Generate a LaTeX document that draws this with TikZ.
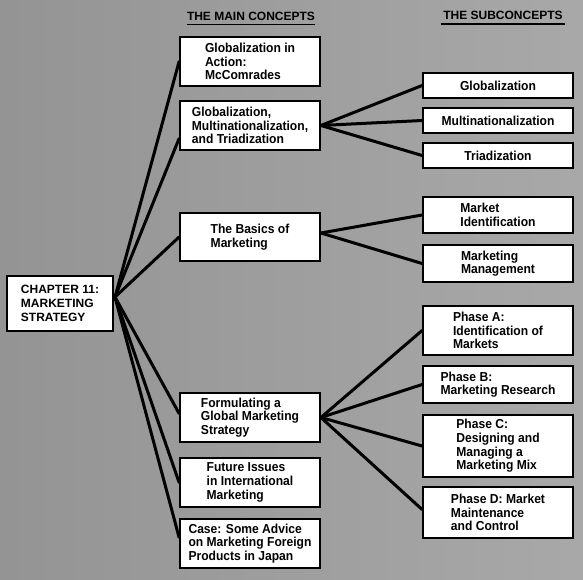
\documentclass[tikz,border=0pt]{standalone}
\usepackage{fontspec}
\setmainfont{Liberation Sans}
\newfontfamily\boxfont[FakeStretch=0.93]{Liberation Sans}
\usetikzlibrary{calc}
\definecolor{bgdark}{gray}{0.58}
\definecolor{bglight}{gray}{0.66}
\tikzset{
  box/.style={draw=black, fill=white, line width=1.8pt, rectangle, inner sep=0pt,
    align=left, font=\boxfont\bfseries\fontsize{13}{13.6}\selectfont},
  mainbox/.style={box, minimum width=140pt, minimum height=49pt},
  subbox/.style={box, minimum width=150pt},
  link/.style={draw=black, line width=3pt, line cap=round},
  header/.style={inner sep=0pt, anchor=base, font=\bfseries\fontsize{12}{14}\selectfont},
  uline/.style={draw=black, line width=1.4pt}
}
\begin{document}
\begin{tikzpicture}[x=1pt, y=-1pt]
\useasboundingbox (0,0) rectangle (583,580);
\shade[left color=bgdark, right color=bglight] (0,0) rectangle (583,580);

% headers
\node[header] (hm) at (251,21) {THE MAIN CONCEPTS};
\node[header] (hs) at (503,20) {THE SUBCONCEPTS};
\draw[uline] ([yshift=-3.5pt]hm.base west) -- ([yshift=-3.5pt]hm.base east);
\draw[uline] ([xshift=-2pt,yshift=-4pt]hs.base west) -- ([xshift=2pt,yshift=-4pt]hs.base east);

% connectors (drawn first, boxes on top)
\coordinate (cf) at (115,297);

% chapter
\node[box, minimum width=106pt, minimum height=55pt, font=\bfseries\fontsize{12}{14}\selectfont] (ch) at (60,303.5) {CHAPTER 11:\\MARKETING\\STRATEGY};

% main concepts
\node[mainbox] (m1) at (250,61.5) {Globalization in\\Action:\\McComrades};
\node[mainbox] (m2) at (250,125.5) {Globalization,\\Multinationalization,\\and Triadization};
\node[mainbox, minimum height=48pt] (m3) at (250,237) {The Basics of\\Marketing};
\node[mainbox] (m4) at (250,417.5) {Formulating a\\Global Marketing\\Strategy};
\node[mainbox] (m5) at (250,482.5) {Future Issues\\in International\\Marketing};
\node[mainbox] (m6) at (250,543.5) {Case: Some Advice\\on Marketing Foreign\\Products in Japan};

% subconcepts
\node[subbox, minimum height=25pt] (s1) at (498,85.5) {Globalization};
\node[subbox, minimum height=25pt] (s2) at (498,120.5) {Multinationalization};
\node[subbox, minimum height=25pt] (s3) at (498,155.5) {Triadization};
\node[subbox, minimum height=36pt] (s4) at (498,215) {Market\\Identification};
\node[subbox, minimum height=37pt] (s5) at (498,263.5) {Marketing\\Management};
\node[subbox, minimum height=49pt] (s6) at (498,330.5) {Phase A:\\Identification of\\Markets};
\node[subbox, minimum height=37pt] (s7) at (498,384.5) {Phase B:\\Marketing Research};
\node[subbox, minimum height=62pt] (s8) at (498,446) {Phase C:\\Designing and\\Managing a\\Marketing Mix};
\node[subbox, minimum height=51pt] (s9) at (498,512.5) {Phase D: Market\\Maintenance\\and Control};

% connectors
\draw[link] (cf) -- (m1.west);
\draw[link] (cf) -- ($(m2.west)+(0,13)$);
\draw[link] (cf) -- (m3.west);
\draw[link] (cf) -- ($(m4.west)+(0,-4)$);
\draw[link] (cf) -- (m5.west);
\draw[link] (cf) -- ($(m6.west)+(0,-6)$);

\draw[link] (m2.east) -- (s1.west);
\draw[link] (m2.east) -- (s2.west);
\draw[link] (m2.east) -- (s3.west);

\draw[link] ($(m3.east)+(0,-4)$) -- (s4.west);
\draw[link] ($(m3.east)+(0,-4)$) -- (s5.west);

\draw[link] (m4.east) -- (s6.west);
\draw[link] (m4.east) -- (s7.west);
\draw[link] (m4.east) -- (s8.west);
\draw[link] (m4.east) -- ($(s9.west)+(0,-3)$);

\end{tikzpicture}
\end{document}
